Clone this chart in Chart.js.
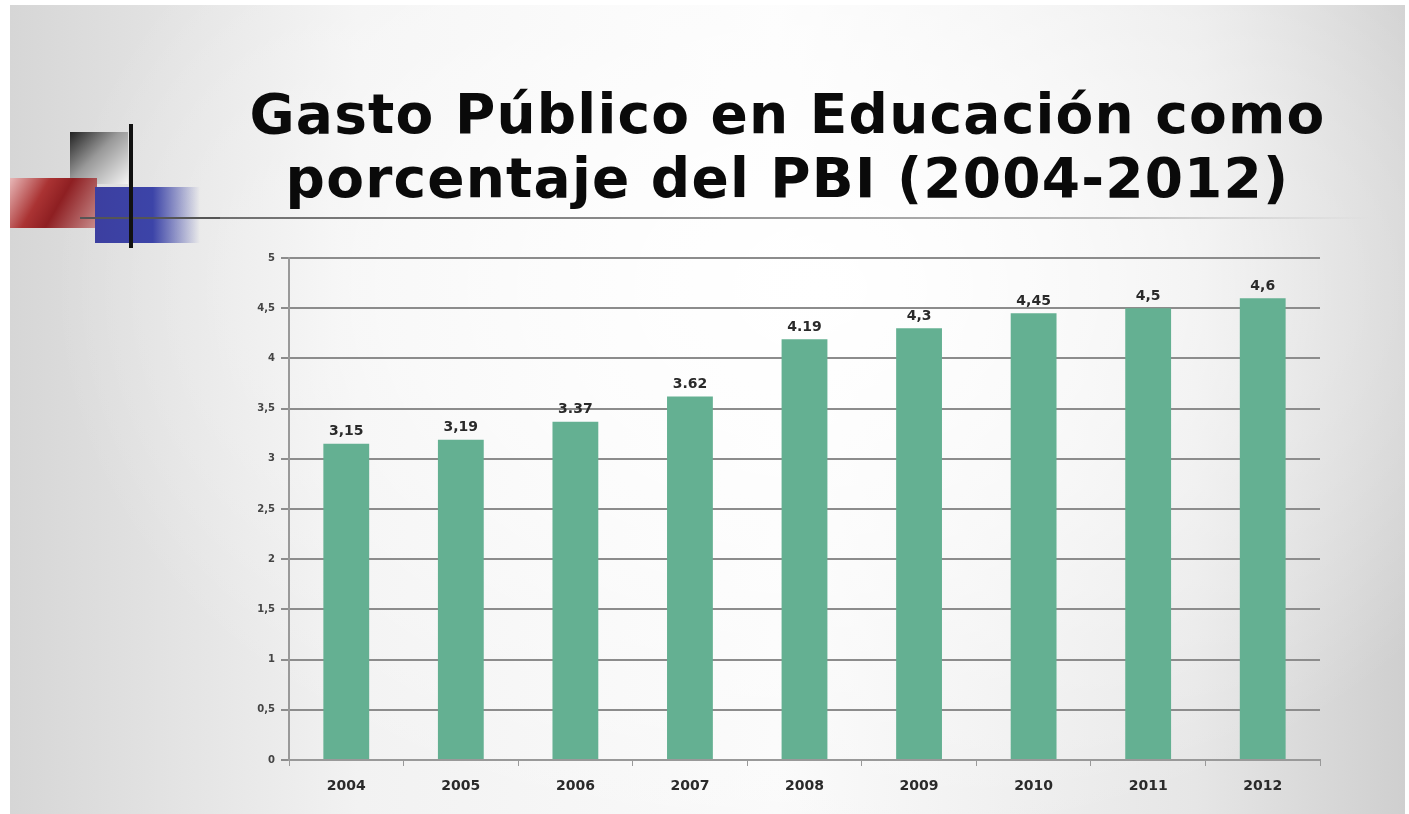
<!DOCTYPE html>
<html>
<head>
<meta charset="utf-8">
<script src="https://cdn.jsdelivr.net/npm/chart.js@4"></script>
<style>
  html, body { margin: 0; padding: 0; }
  body {
    width: 1409px; height: 814px; position: relative; overflow: hidden;
    background: #fff;
  }
  #slide {
    position: absolute; left: 10px; top: 5px; width: 1395px; height: 809px;
    background:
      radial-gradient(ellipse 55% 70% at 58% 35%, rgba(255,255,255,1) 0%, rgba(255,255,255,0.6) 45%, rgba(255,255,255,0) 100%),
      linear-gradient(90deg, #d6d6d6 0%, #f2f2f2 25%, #fafafa 55%, #e6e6e6 85%, #cfcfcf 100%);
  }
  #title {
    position: absolute; left: 200px; top: 82px; width: 1175px;
    text-align: center; font-family: "DejaVu Sans", sans-serif; font-weight: bold;
    font-size: 55px; line-height: 64px; letter-spacing: 1.2px; color: #0a0a0a;
  }
  .deco { position: absolute; }
  #c { position: absolute; left: 0; top: 0; }
</style>
</head>
<body>
<div id="slide"></div>
<div class="deco" style="left:80px;top:217px;width:1290px;height:2px;background:linear-gradient(90deg,#666 0%,#888 40%,#bbb 80%,rgba(200,200,200,0) 100%)"></div>
<div class="deco" style="left:70px;top:132px;width:58px;height:52px;background:linear-gradient(135deg,#222 0%,#999 45%,#f4f4f4 100%)"></div>
<div class="deco" style="left:10px;top:178px;width:87px;height:50px;background:linear-gradient(120deg,#e8b8b8 0%,#a33 35%,#8e1f22 55%,#c98e8e 100%)"></div>
<div class="deco" style="left:95px;top:187px;width:105px;height:56px;background:linear-gradient(90deg,#3c3fa0 0%,#3c44a8 55%,rgba(60,70,170,0) 100%)"></div>
<div class="deco" style="left:80px;top:217px;width:140px;height:2px;background:#555"></div>
<div class="deco" style="left:129px;top:124px;width:4px;height:124px;background:#111"></div>
<div id="title">Gasto Público en Educación como<br>porcentaje del PBI (2004-2012)</div>
<canvas id="c" width="1409" height="814"></canvas>
<script>
const years = ["2004", "2005", "2006", "2007", "2008", "2009", "2010", "2011", "2012"];
const gasto_pbi = [3.15, 3.19, 3.37, 3.62, 4.19, 4.3, 4.45, 4.5, 4.6];
const value_labels = ["3,15", "3,19", "3.37", "3.62", "4.19", "4,3", "4,45", "4,5", "4,6"];
const y_tick_labels = {0: "0", 0.5: "0,5", 1: "1", 1.5: "1,5", 2: "2", 2.5: "2,5", 3: "3", 3.5: "3,5", 4: "4", 4.5: "4,5", 5: "5"};

// labels on top of the bars
const bar_labels = {
  id: "bar_labels",
  afterDatasetsDraw(chart) {
    const ctx = chart.ctx;
    const meta = chart.getDatasetMeta(0);
    ctx.save();
    ctx.font = "bold 14px 'DejaVu Sans', sans-serif";
    ctx.fillStyle = "#2a2a2a";
    ctx.textAlign = "center";
    ctx.textBaseline = "bottom";
    meta.data.forEach((bar, i) => {
      ctx.fillText(value_labels[i], bar.x, bar.y - 5);
    });
    ctx.restore();
  },
};

new Chart(document.getElementById("c").getContext("2d"), {
  type: "bar",
  data: {
    labels: years,
    datasets: [
      {
        data: gasto_pbi,
        backgroundColor: "#64b092",
        barPercentage: 0.4,
        categoryPercentage: 1,
      },
    ],
  },
  options: {
    responsive: false,
    animation: false,
    layout: { padding: { left: 244, top: 258, right: 89, bottom: 0 } },
    plugins: { legend: { display: false }, tooltip: { enabled: false } },
    scales: {
      y: {
        min: 0,
        max: 5,
        afterFit: (scale) => { scale.width = 45; },
        ticks: {
          stepSize: 0.5,
          padding: 6,
          color: "#444",
          font: { family: "DejaVu Sans", size: 10, weight: "bold" },
          callback: (v) => y_tick_labels[v],
        },
        grid: { color: "#8c8c8c", lineWidth: 2, tickLength: 8 },
        border: { color: "#999", width: 2 },
      },
      x: {
        afterFit: (scale) => { scale.height = 54; },
        ticks: {
          padding: 12,
          color: "#2a2a2a",
          font: { family: "DejaVu Sans", size: 14, weight: "bold" },
        },
        grid: { drawOnChartArea: false, offset: true, color: "#999", tickLength: 6 },
        border: { color: "#999", width: 2 },
      },
    },
  },
  plugins: [bar_labels],
});
</script>
</body>
</html>
